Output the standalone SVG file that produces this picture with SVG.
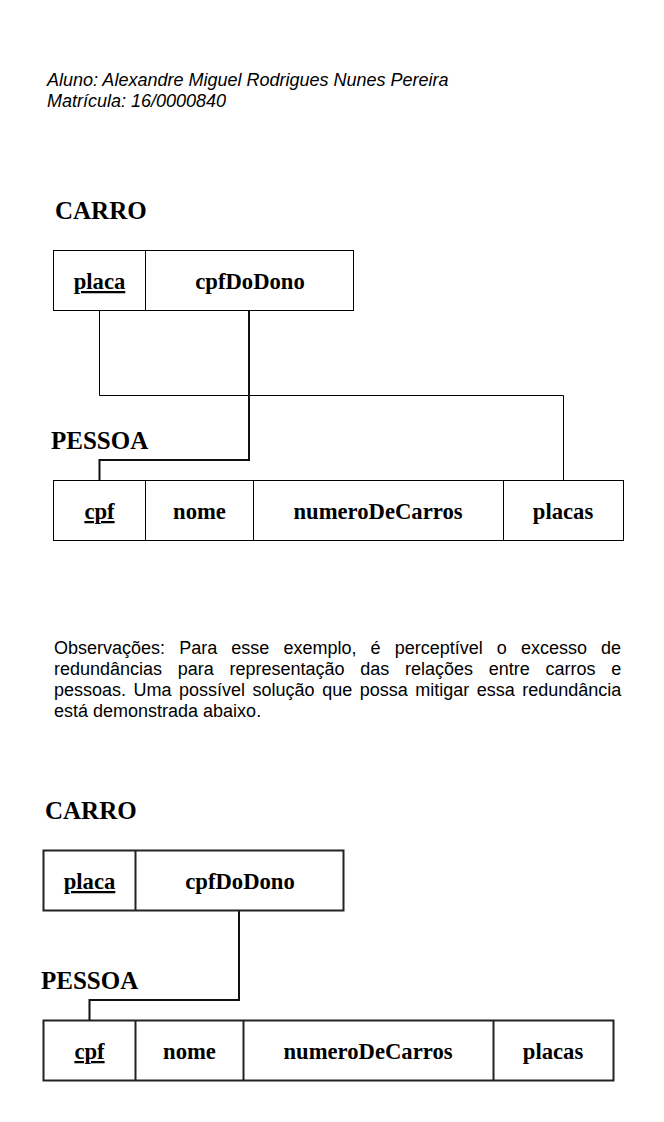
<svg xmlns="http://www.w3.org/2000/svg" width="664" height="1122" viewBox="0 0 664 1122">
<style>
.hdr{font-family:"Liberation Sans",Arial,sans-serif;font-size:18px;font-style:italic;fill:#000}
.obs{font-family:"Liberation Sans",Arial,sans-serif;font-size:18px;fill:#000}
.title{font-family:"Liberation Serif","Times New Roman",serif;font-size:25px;font-weight:bold;fill:#000}
.cell{font-family:"Liberation Serif","Times New Roman",serif;font-size:22.67px;font-weight:bold;fill:#000;text-anchor:middle}
.pk{text-decoration:underline}
.b1{fill:#fff;stroke:#000;stroke-width:1}
.b2{fill:#fff;stroke:#222;stroke-width:2}
.c1{fill:none;stroke:#000;stroke-width:1}
.c2{fill:none;stroke:#111;stroke-width:2}
</style>
<rect width="664" height="1122" fill="#fff"/>
<g id="header">
<text class="hdr" x="47" y="86">Aluno: Alexandre Miguel Rodrigues Nunes Pereira</text>
<text class="hdr" x="47" y="107">Matrícula: 16/0000840</text>
</g>
<g id="connectors">
<path class="c1" d="M99.5 310 V395.5 H563.5 V480"/>
<path class="c2" d="M249 310 V460 H99.5 V480"/>
<path class="c2" d="M239 910 V1000 H89.5 V1020"/>
</g>
<g id="carro1">
<text class="title" x="55" y="219">CARRO</text>
<rect class="b1" x="53.5" y="250.5" width="300" height="60"/>
<line class="c1" x1="145.5" y1="250.5" x2="145.5" y2="310.5"/>
<text class="cell pk" x="99.5" y="289">placa</text>
<text class="cell" x="250" y="289">cpfDoDono</text>
</g>
<g id="pessoa1">
<text class="title" x="51" y="449">PESSOA</text>
<rect class="b1" x="53.5" y="480.5" width="570" height="60"/>
<line class="c1" x1="145.5" y1="480.5" x2="145.5" y2="540.5"/>
<line class="c1" x1="253.5" y1="480.5" x2="253.5" y2="540.5"/>
<line class="c1" x1="503.5" y1="480.5" x2="503.5" y2="540.5"/>
<text class="cell pk" x="99.5" y="519">cpf</text>
<text class="cell" x="199.5" y="519">nome</text>
<text class="cell" x="378" y="519">numeroDeCarros</text>
<text class="cell" x="563" y="519">placas</text>
</g>
<g id="observacoes">
<text class="obs" x="54" y="654" word-spacing="9.1">Observações: Para esse exemplo, é perceptível o excesso de</text>
<text class="obs" x="54" y="675" word-spacing="10.7">redundâncias para representação das relações entre carros e</text>
<text class="obs" x="54" y="696" word-spacing="2.5">pessoas. Uma possível solução que possa mitigar essa redundância</text>
<text class="obs" x="54" y="717">está demonstrada abaixo.</text>
</g>
<g id="carro2">
<text class="title" x="45" y="819">CARRO</text>
<rect class="b2" x="43.5" y="850.5" width="300" height="60"/>
<line class="b2" x1="135.5" y1="850.5" x2="135.5" y2="910.5"/>
<text class="cell pk" x="89.5" y="889">placa</text>
<text class="cell" x="240" y="889">cpfDoDono</text>
</g>
<g id="pessoa2">
<text class="title" x="41" y="989">PESSOA</text>
<rect class="b2" x="43.5" y="1020.5" width="570" height="60"/>
<line class="b2" x1="135.5" y1="1020.5" x2="135.5" y2="1080.5"/>
<line class="b2" x1="243.5" y1="1020.5" x2="243.5" y2="1080.5"/>
<line class="b2" x1="493.5" y1="1020.5" x2="493.5" y2="1080.5"/>
<text class="cell pk" x="89.5" y="1059">cpf</text>
<text class="cell" x="189.5" y="1059">nome</text>
<text class="cell" x="368" y="1059">numeroDeCarros</text>
<text class="cell" x="553" y="1059">placas</text>
</g>
</svg>
